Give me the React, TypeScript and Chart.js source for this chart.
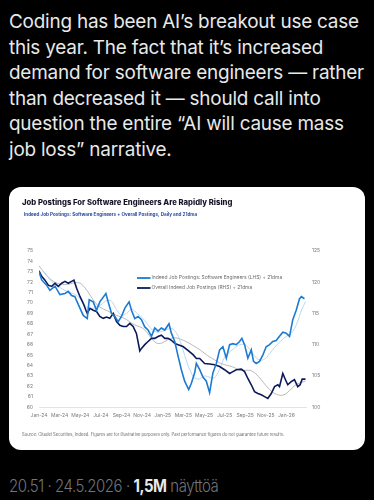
import React, { useEffect, useRef } from "react";
import { Chart, registerables } from "chart.js";

Chart.register(...registerables);

const TWEET_LINES = [
  "Coding has been AI’s breakout use case",
  "this year. The fact that it’s increased",
  "demand for software engineers — rather",
  "than decreased it — should call into",
  "question the entire “AI will cause mass",
  "job loss” narrative.",
];

const CHART_TITLE = "Job Postings For Software Engineers Are Rapidly Rising";
const CHART_SUBTITLE = "Indeed Job Postings: Software Engineers + Overall Postings, Daily and 21dma";
const SOURCE_NOTE =
  "Source: Citadel Securities, Indeed. Figures are for illustrative purposes only. Past performance figures do not guarantee future results.";
const LEGEND_LABELS = [
  "Indeed Job Postings: Software Engineers (LHS) + 21dma",
  "Overall Indeed Job Postings (RHS) + 21dma",
];

// x = months since 1 Jan 2024
const X_TICK_MONTHS = [0, 2, 4, 6, 8, 10, 12, 14, 16, 18, 20, 22, 24];
const X_TICK_LABELS = [
  "Jan-24", "Mar-24", "May-24", "Jul-24", "Sep-24", "Nov-24", "Jan-25",
  "Mar-25", "May-25", "Jul-25", "Sep-25", "Nov-25", "Jan-26",
];

// Software engineers postings (LHS)
const SW_MONTHS = [0, 0.26, 0.74, 1.06, 1.55, 2.03, 2.52, 2.84, 3.16, 3.48, 3.97, 4.29, 4.68, 4.87, 5.26, 5.58, 5.9, 6.49, 6.71, 7.03, 7.36, 7.68, 8.0, 8.33, 8.74, 8.97, 9.29, 9.61, 9.94, 10.26, 10.58, 10.91, 11.23, 11.55, 11.87, 12.2, 12.61, 12.84, 13.17, 13.49, 13.81, 14.13, 14.52, 14.78, 15.1, 15.26, 15.59, 15.9, 16.23, 16.55, 16.87, 17.2, 17.52, 17.84, 18.17, 18.49, 18.81, 19.14, 19.46, 19.68, 19.94, 20.26, 20.59, 20.81, 21.07, 21.39, 21.71, 22.04, 22.36, 22.68, 23.01, 23.33, 23.65, 23.98, 24.3, 24.62, 24.95, 25.27, 25.46, 25.75];
const SW_VALUES = [73.0, 72.2, 71.7, 71.2, 71.6, 70.8, 70.9, 71.1, 70.7, 70.6, 69.5, 68.8, 68.5, 70.3, 70.1, 69.3, 70.1, 70.9, 70.1, 69.0, 68.7, 68.2, 68.7, 69.5, 70.1, 69.3, 68.5, 68.7, 68.4, 67.7, 67.4, 66.8, 67.6, 67.3, 67.6, 67.4, 68.0, 67.1, 66.3, 64.9, 63.6, 62.5, 61.7, 62.3, 63.3, 64.2, 63.6, 62.9, 62.5, 61.4, 63.3, 64.2, 65.5, 65.8, 64.7, 66.0, 66.1, 66.0, 66.3, 66.6, 66.0, 64.7, 65.5, 64.4, 64.2, 64.4, 65.0, 65.8, 66.0, 66.3, 66.4, 66.8, 67.2, 67.1, 66.8, 68.4, 69.3, 70.4, 70.6, 70.4];

// Software engineers 21dma (LHS)
const SW_MA_MONTHS = [0.5, 1, 1.5, 2, 2.5, 3, 3.5, 4, 4.5, 5, 5.5, 6, 6.5, 7, 7.5, 8, 8.5, 9, 9.5, 10, 10.5, 11, 11.5, 12, 12.5, 13, 13.5, 14, 14.5, 15, 15.5, 16, 16.5, 17, 17.5, 18, 18.5, 19, 19.5, 20, 20.5, 21, 21.5, 22, 22.5, 23, 23.5, 24, 24.5, 25, 25.5, 25.85];
const SW_MA_VALUES = [73.0, 72.3, 71.8, 71.5, 71.2, 71.0, 70.8, 70.4, 69.7, 69.4, 69.6, 69.8, 70.2, 70.2, 69.4, 68.8, 69.0, 69.4, 69.0, 68.6, 68.0, 67.4, 67.2, 67.3, 67.5, 67.5, 66.8, 65.4, 63.9, 62.9, 62.7, 63.0, 62.9, 62.8, 63.6, 64.8, 65.3, 65.7, 66.0, 66.0, 65.5, 64.8, 64.5, 64.7, 65.3, 65.9, 66.4, 66.8, 67.1, 68.0, 69.4, 70.1];

// Overall postings (RHS)
const OV_MONTHS = [0, 0.26, 0.58, 0.9, 1.23, 1.55, 1.87, 2.2, 2.52, 2.84, 3.16, 3.39, 3.65, 3.97, 4.29, 4.55, 4.68, 4.94, 5.26, 5.58, 5.9, 6.23, 6.55, 6.87, 7.2, 7.52, 7.84, 8.16, 8.49, 8.81, 9.13, 9.45, 9.78, 9.94, 10.26, 10.58, 10.91, 11.23, 11.55, 11.87, 12.2, 12.52, 12.84, 13.17, 13.49, 13.97, 14.45, 14.94, 15.27, 15.59, 16.07, 16.55, 17.04, 17.52, 18.0, 18.49, 18.81, 19.14, 19.62, 19.94, 20.26, 20.59, 20.91, 21.23, 21.56, 21.88, 22.2, 22.53, 22.85, 23.17, 23.33, 23.65, 23.91, 24.13, 24.46, 24.78, 25.1, 25.33, 25.53, 25.85];
const OV_VALUES = [121.8, 120.9, 120.3, 119.5, 119.3, 119.8, 119.3, 119.8, 120.1, 119.8, 120.1, 120.3, 119.0, 117.7, 116.6, 115.5, 115.0, 115.8, 115.5, 115.3, 114.5, 114.2, 114.4, 114.2, 115.0, 113.7, 113.1, 112.9, 112.9, 113.4, 112.9, 111.8, 109.0, 109.4, 110.0, 110.5, 111.0, 111.0, 111.3, 111.5, 111.0, 111.0, 110.7, 110.2, 110.0, 109.7, 109.1, 108.4, 107.8, 107.8, 107.0, 106.9, 106.8, 106.5, 106.0, 105.4, 105.7, 106.0, 106.1, 105.7, 104.6, 103.6, 102.5, 102.2, 102.0, 101.7, 101.4, 102.2, 103.3, 103.6, 103.3, 105.4, 104.4, 103.6, 104.1, 104.4, 103.3, 103.6, 104.5, 104.5];

// Overall postings 21dma (RHS)
const OV_MA_MONTHS = [0, 0.5, 1, 1.5, 2, 2.5, 3, 3.5, 4, 4.5, 5, 5.5, 6, 6.5, 7, 7.5, 8, 8.5, 9, 9.5, 10, 10.5, 11, 11.5, 12, 12.5, 13, 13.5, 14, 14.5, 15, 15.5, 16, 16.5, 17, 17.5, 18, 18.5, 19, 19.5, 20, 20.5, 21, 21.5, 22, 22.5, 23, 23.5, 24, 24.5, 25, 25.5, 25.85];
const OV_MA_VALUES = [122.6, 121.5, 120.6, 120.0, 119.7, 119.6, 119.7, 119.9, 119.8, 119.0, 117.8, 116.6, 115.9, 115.5, 115.1, 114.7, 114.4, 114.0, 113.4, 113.0, 112.7, 111.9, 110.8, 110.2, 110.3, 110.8, 111.1, 111.0, 110.7, 110.3, 109.8, 109.3, 108.7, 108.1, 107.6, 107.1, 106.8, 106.6, 106.3, 105.9, 105.9, 105.9, 105.4, 104.5, 103.5, 102.6, 102.1, 101.9, 102.2, 103.0, 103.7, 104.0, 104.2];

const COLOR_SW = "#1b7bd3";
const COLOR_SW_MA = "#a9cdee";
const COLOR_OV = "#0c1a5b";
const COLOR_OV_MA = "#9a9ca3";

const CANVAS_W = 356;
const CANVAS_H = 263;
const FONT = "Inter, 'Open Sans', sans-serif";

const pts = (xs: number[], ys: number[]) => xs.map((x, i) => ({ x, y: ys[i] }));

const textPlugin = {
  id: "cardTexts",
  afterDraw(chart: any) {
    const ctx = chart.ctx;
    ctx.save();
    ctx.textBaseline = "middle";
    ctx.textAlign = "left";
    ctx.fillStyle = "#141428";
    ctx.font = `800 7.7px ${FONT}`;
    ctx.fillText(CHART_TITLE, 13, 16);
    ctx.fillStyle = "#2a4aa0";
    ctx.font = `700 4.6px ${FONT}`;
    ctx.fillText(CHART_SUBTITLE, 15, 28);

    const colors = [COLOR_SW, COLOR_OV];
    const ys = [91, 101];
    LEGEND_LABELS.forEach((label, i) => {
      ctx.strokeStyle = colors[i];
      ctx.lineWidth = 1.8;
      ctx.beginPath();
      ctx.moveTo(128, ys[i]);
      ctx.lineTo(141.5, ys[i]);
      ctx.stroke();
      ctx.fillStyle = "#6b6b6b";
      ctx.font = `400 4.9px ${FONT}`;
      ctx.fillText(label, 142.5, ys[i]);
    });

    ctx.fillStyle = "#6b6b6b";
    ctx.font = `400 4.15px ${FONT}`;
    ctx.fillText(SOURCE_NOTE, 13, 248);
    ctx.restore();
  },
};

function ChartCard() {
  const ref = useRef<HTMLCanvasElement | null>(null);
  useEffect(() => {
    if (!ref.current) return;
    const tickFont = { family: FONT, size: 5 };
    const chart = new Chart(ref.current, {
      type: "line",
      data: {
        datasets: [
          {
            label: "Software Engineers (LHS)",
            data: pts(SW_MONTHS, SW_VALUES),
            borderColor: COLOR_SW,
            borderWidth: 1.6,
            pointRadius: 0,
            yAxisID: "yL",
            order: 1,
          },
          {
            label: "Overall (RHS)",
            data: pts(OV_MONTHS, OV_VALUES),
            borderColor: COLOR_OV,
            borderWidth: 1.6,
            pointRadius: 0,
            yAxisID: "yR",
            order: 2,
          },
          {
            label: "Software Engineers 21dma",
            data: pts(SW_MA_MONTHS, SW_MA_VALUES),
            borderColor: COLOR_SW_MA,
            borderWidth: 0.8,
            pointRadius: 0,
            tension: 0.3,
            yAxisID: "yL",
            order: 3,
          },
          {
            label: "Overall 21dma",
            data: pts(OV_MA_MONTHS, OV_MA_VALUES),
            borderColor: COLOR_OV_MA,
            borderWidth: 0.7,
            pointRadius: 0,
            tension: 0.3,
            yAxisID: "yR",
            order: 4,
          },
        ],
      },
      options: {
        animation: false,
        responsive: false,
        devicePixelRatio: 1,
        layout: { padding: { top: 63.7, bottom: 28.7, left: 0, right: 0 } },
        plugins: { legend: { display: false }, tooltip: { enabled: false }, title: { display: false } },
        scales: {
          x: {
            type: "linear",
            min: 0,
            max: 25.9,
            grid: { display: false, drawTicks: false },
            border: { display: true, color: "#dcdcdc", width: 0.8 },
            afterBuildTicks: (scale: any) => {
              scale.ticks = X_TICK_MONTHS.map((v) => ({ value: v }));
            },
            afterFit: (scale: any) => {
              scale.height = 14;
            },
            ticks: {
              autoSkip: false,
              maxRotation: 0,
              padding: 5,
              color: "#7a7a7a",
              font: tickFont,
              callback: (v: any) => X_TICK_LABELS[X_TICK_MONTHS.indexOf(Number(v))] ?? "",
            },
          },
          yL: {
            type: "linear",
            position: "left",
            min: 60,
            max: 75,
            grid: { display: false, drawTicks: false },
            border: { display: false },
            afterFit: (scale: any) => {
              scale.width = 30;
            },
            ticks: { stepSize: 1, padding: 6, color: "#7a7a7a", font: tickFont },
          },
          yR: {
            type: "linear",
            position: "right",
            min: 100,
            max: 125,
            grid: { display: false, drawTicks: false },
            border: { display: false },
            afterFit: (scale: any) => {
              scale.width = CANVAS_W - 297;
            },
            ticks: { stepSize: 5, padding: 6, color: "#7a7a7a", font: tickFont },
          },
        },
      },
      plugins: [textPlugin],
    } as any);
    return () => chart.destroy();
  }, []);
  return (
    <canvas
      ref={ref}
      width={CANVAS_W}
      height={CANVAS_H}
      style={{ display: "block", width: CANVAS_W, height: CANVAS_H }}
    />
  );
}

export default function App() {
  useEffect(() => {
    document.body.style.margin = "0";
    document.body.style.background = "#000";
    document.documentElement.style.background = "#000";
  }, []);
  return (
    <div
      style={{
        position: "relative",
        width: 374,
        height: 500,
        background: "#000",
        overflow: "hidden",
        fontFamily: "Inter, 'Noto Sans', sans-serif",
      }}
    >
      <div
        style={{
          position: "absolute",
          left: 9,
          top: 9,
          color: "#e7e9ea",
          fontSize: 18.9,
          lineHeight: "25.6px",
          letterSpacing: "-0.2px",
        }}
      >
        {TWEET_LINES.map((l, i) => (
          <div key={i} style={{ whiteSpace: "nowrap" }}>
            {l}
          </div>
        ))}
      </div>
      <div
        style={{
          position: "absolute",
          left: 9,
          top: 187,
          width: CANVAS_W,
          height: CANVAS_H,
          background: "#fff",
          borderRadius: 12,
          overflow: "hidden",
        }}
      >
        <ChartCard />
      </div>
      <div
        style={{
          position: "absolute",
          left: 9,
          top: 474,
          fontSize: 17,
          lineHeight: "24px",
          color: "#71767b",
          whiteSpace: "nowrap",
          letterSpacing: "-0.5px",
          fontWeight: 300,
          transform: "scaleX(0.88)",
          transformOrigin: "left center",
        }}
      >
        20.51 · 24.5.2026 · <span style={{ color: "#e7e9ea", fontWeight: 700 }}>1,5M</span> näyttöä
      </div>
    </div>
  );
}
